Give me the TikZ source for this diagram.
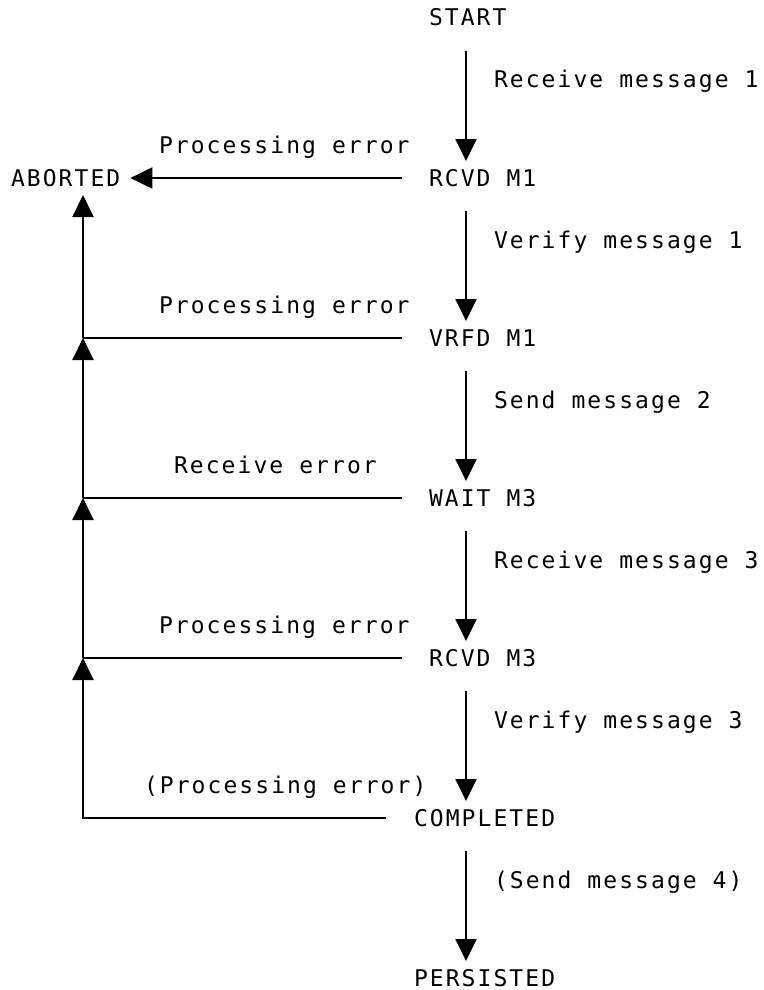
\documentclass[tikz,border=0pt]{standalone}
\usepackage{fontspec}
\usetikzlibrary{arrows.meta}
\newfontfamily\diagfont[LetterSpace=9]{DejaVu Sans Mono}

\begin{document}
\begin{tikzpicture}[x=1pt, y=-1pt, line width=2pt,
    >={Triangle[length=22pt, width=21pt]},
    state/.style = {anchor=base west, inner sep=0pt, text height=16pt, text depth=0pt,
                    font=\diagfont\fontsize{23}{27}\selectfont},
    lbl/.style = {anchor=base west, inner sep=0pt, font=\diagfont\fontsize{23}{27}\selectfont},
    flow/.style = {->, shorten <=24pt, shorten >=8pt}]
    \useasboundingbox (0,0) rectangle (763,990);
    \coordinate (col) at (466,0);
    \coordinate (spine) at (83,0);

    \node[state] (Sstart) at (428, 26) {START};
    \node[state] (Srcvd1) at (428, 186) {RCVD M1};
    \node[state] (Svrfd1) at (428, 346) {VRFD M1};
    \node[state] (Swait3) at (428, 506) {WAIT M3};
    \node[state] (Srcvd3) at (428, 666) {RCVD M3};
    \node[state] (Scompleted) at (413, 826) {COMPLETED};
    \node[state] (Spersisted) at (413, 986) {PERSISTED};
    \node[state] (Saborted) at (10, 186) {ABORTED};

    % main flow
    \draw[flow] (Sstart.south -| col) -- (Srcvd1.north -| col);
    \draw[flow] (Srcvd1.south -| col) -- (Svrfd1.north -| col);
    \draw[flow] (Svrfd1.south -| col) -- (Swait3.north -| col);
    \draw[flow] (Swait3.south -| col) -- (Srcvd3.north -| col);
    \draw[flow] (Srcvd3.south -| col) -- (Scompleted.north -| col);
    \draw[flow] (Scompleted.south -| col) -- (Spersisted.north -| col);

    \node[lbl] (Lrecv1) at (493, 88) {Receive message 1};
    \node[lbl] (Lver1) at (493, 248) {Verify message 1};
    \node[lbl] (Lsend2) at (493, 408) {Send message 2};
    \node[lbl] (Lrecv3) at (493, 568) {Receive message 3};
    \node[lbl] (Lver3) at (493, 728) {Verify message 3};
    \node[lbl] (Lsend4) at (493, 888) {(Send message 4)};

    % error paths to ABORTED
    \draw[->, shorten <=26pt, shorten >=9pt] (Srcvd1.west) -- (Saborted.east);
    \draw[shorten <=26pt] (Svrfd1.west) -- (Svrfd1.west -| spine);
    \draw[shorten <=26pt] (Swait3.west) -- (Swait3.west -| spine);
    \draw[shorten <=26pt] (Srcvd3.west) -- (Srcvd3.west -| spine);
    \draw[->, shorten <=27pt] (Scompleted.west) -- (Scompleted.west -| spine) -- (Srcvd3.west -| spine);
    \draw[->] (Srcvd3.west -| spine) -- (Swait3.west -| spine);
    \draw[->] (Swait3.west -| spine) -- (Svrfd1.west -| spine);
    \draw[->, shorten >=8pt] (Svrfd1.west -| spine) -- (Saborted.south -| spine);

    \node[lbl] (Lerr1) at (158, 153) {Processing error};
    \node[lbl] (Lerr2) at (158, 313) {Processing error};
    \node[lbl] (Lerr3) at (173, 473) {Receive error};
    \node[lbl] (Lerr4) at (158, 633) {Processing error};
    \node[lbl] (Lerr5) at (143, 793) {(Processing error)};
\end{tikzpicture}
\end{document}
